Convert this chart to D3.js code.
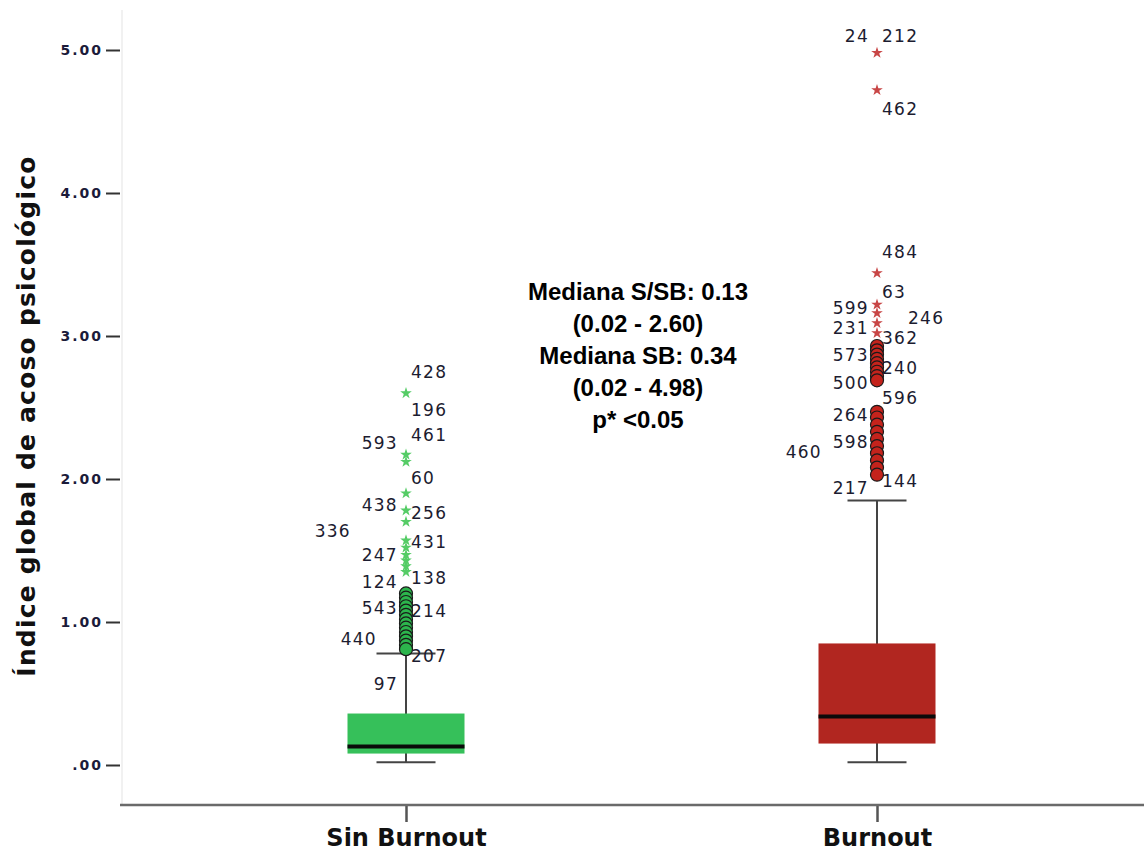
<!DOCTYPE html>
<html>
<head>
<meta charset="utf-8">
<script src="https://cdn.jsdelivr.net/npm/d3@7"></script>
<style>
  html, body { margin: 0; padding: 0; background: #fff; }
  svg { display: block; }
</style>
</head>
<body>
<svg id="chart" width="1144" height="852"></svg>
<script>
// Groups and box statistics
const categories   = ["Sin Burnout", "Burnout"];
const whiskerLow   = [0.02, 0.02];
const q1           = [0.08, 0.15];
const median       = [0.13, 0.34];
const q3           = [0.36, 0.85];
const whiskerHigh  = [0.78, 1.85];

// Outliers (circles) and extreme values (stars) per group
const outliersSin  = [1.20, 1.17, 1.14, 1.11, 1.08, 1.05, 1.02, 0.99, 0.96, 0.93, 0.90, 0.87, 0.84, 0.81];
const extremesSin  = [2.60, 2.17, 2.12, 1.90, 1.78, 1.70, 1.57, 1.52, 1.47, 1.43, 1.39, 1.35];
const outliersBurn = [2.93, 2.90, 2.87, 2.84, 2.81, 2.78, 2.75, 2.72, 2.69,
                      2.47, 2.43, 2.38, 2.33, 2.28, 2.23, 2.18, 2.13, 2.08, 2.03];
const extremesBurn = [4.98, 4.72, 3.44, 3.22, 3.16, 3.09, 3.02];

// Case labels: [case id, value level of the label, side]
const labelsSin = [
  ["428", 2.75, "right"], ["196", 2.48, "right"], ["461", 2.31, "right"],
  ["593", 2.25, "left"],  ["60", 2.01, "right"],  ["438", 1.82, "left"],
  ["256", 1.76, "right"], ["336", 1.64, "far-left"], ["431", 1.56, "right"],
  ["247", 1.47, "left"],  ["138", 1.31, "right"], ["124", 1.28, "left"],
  ["543", 1.10, "left"],  ["214", 1.08, "right"], ["440", 0.88, "mid-left"],
  ["207", 0.76, "right"], ["97", 0.57, "left"]
];
const labelsBurn = [
  ["24", 5.10, "left"],   ["212", 5.10, "right"], ["462", 4.59, "right"],
  ["484", 3.59, "right"], ["63", 3.31, "right"],  ["599", 3.20, "left"],
  ["246", 3.13, "far-right"], ["231", 3.06, "left"], ["362", 2.99, "right"],
  ["573", 2.87, "left"],  ["240", 2.78, "right"], ["500", 2.67, "left"],
  ["596", 2.57, "right"], ["264", 2.45, "left"],  ["598", 2.26, "left"],
  ["460", 2.19, "far-left"], ["144", 1.99, "right"], ["217", 1.94, "left"]
];

const yTicks = [0, 1, 2, 3, 4, 5];
const yTitle = "Índice global de acoso psicológico";
const notes = ["Mediana S/SB: 0.13", "(0.02 - 2.60)", "Mediana SB: 0.34", "(0.02 - 4.98)", "p* <0.05"];

const svg = d3.select("#chart");
const plotLeft = 121, axisY = 805;

const y = d3.scaleLinear().domain([0, 5]).range([765, 50]);
const x = d3.scalePoint().domain(categories).range([406, 877]);

const boxFill  = ["#36c05a", "#b12620"];
const dotFill  = ["#2cb54c", "#c4231c"];
const starFill = ["#55cc66", "#c84646"];
const outliers = [outliersSin, outliersBurn];
const extremes = [extremesSin, extremesBurn];
const labels   = [labelsSin, labelsBurn];

// faint frame line on the left of the plot
svg.append("line")
  .attr("x1", plotLeft + 1).attr("x2", plotLeft + 1)
  .attr("y1", 10).attr("y2", axisY)
  .attr("stroke", "#ececec").attr("stroke-width", 1.5);

// y axis
const yAxis = d3.axisLeft(y)
  .tickValues(yTicks)
  .tickSize(14)
  .tickPadding(3)
  .tickFormat(d => d === 0 ? ".00" : d3.format(".2f")(d));
const gy = svg.append("g").attr("transform", `translate(${plotLeft - 1},0)`).call(yAxis);
gy.select(".domain").remove();
gy.selectAll(".tick line").attr("stroke", "#333").attr("stroke-width", 2);
gy.selectAll(".tick text")
  .attr("fill", "#1b1b3a")
  .style("font-family", "'DejaVu Sans', sans-serif")
  .style("font-weight", "bold")
  .style("font-size", "14px")
  .style("letter-spacing", "2px");

// x axis
const xAxis = d3.axisBottom(x).tickSize(17).tickPadding(6);
const gx = svg.append("g").attr("transform", `translate(0,${axisY})`).call(xAxis);
gx.select(".domain").remove();
svg.append("line")
  .attr("x1", plotLeft - 1).attr("x2", 1144)
  .attr("y1", axisY).attr("y2", axisY)
  .attr("stroke", "#6a6a6a").attr("stroke-width", 2.5);
gx.selectAll(".tick line").attr("stroke", "#555").attr("stroke-width", 2.5);
gx.selectAll(".tick text")
  .attr("fill", "#111")
  .attr("y", 41)
  .attr("dy", 0)
  .style("font-family", "'DejaVu Sans', sans-serif")
  .style("font-weight", "bold")
  .style("font-size", "24px");

// y axis title
svg.append("text")
  .attr("transform", "translate(35,416) rotate(-90)")
  .attr("text-anchor", "middle")
  .attr("fill", "#111")
  .style("font-family", "'DejaVu Sans', sans-serif")
  .style("font-weight", "bold")
  .style("font-size", "25px")
  .style("letter-spacing", "1.2px")
  .text(yTitle);

const boxW = 117, capW = 59;

categories.forEach((c, i) => {
  const cx = x(c);
  const g = svg.append("g");

  // whisker stem
  g.append("line")
    .attr("x1", cx).attr("x2", cx)
    .attr("y1", y(whiskerLow[i])).attr("y2", y(whiskerHigh[i]))
    .attr("stroke", "#444").attr("stroke-width", 2);
  // whisker caps
  [whiskerLow[i], whiskerHigh[i]].forEach(v => {
    g.append("line")
      .attr("x1", cx - capW / 2).attr("x2", cx + capW / 2)
      .attr("y1", y(v)).attr("y2", y(v))
      .attr("stroke", "#444").attr("stroke-width", 2);
  });
  // box
  g.append("rect")
    .attr("x", cx - boxW / 2).attr("width", boxW)
    .attr("y", y(q3[i])).attr("height", y(q1[i]) - y(q3[i]))
    .attr("fill", boxFill[i]);
  // median
  g.append("line")
    .attr("x1", cx - boxW / 2).attr("x2", cx + boxW / 2)
    .attr("y1", y(median[i])).attr("y2", y(median[i]))
    .attr("stroke", "#0a0a0a").attr("stroke-width", 4);

  // extreme values
  g.selectAll(".star").data(extremes[i]).enter().append("path")
    .attr("d", d3.symbol().type(d3.symbolStar).size(42))
    .attr("transform", d => `translate(${cx},${y(d)})`)
    .attr("fill", starFill[i]);

  // outliers
  g.selectAll(".dot").data(outliers[i]).enter().append("circle")
    .attr("cx", cx).attr("cy", d => y(d)).attr("r", 6.5)
    .attr("fill", dotFill[i])
    .attr("stroke", "#1a1a1a").attr("stroke-width", 1.2);

  // case labels
  const off = { "left": -8, "mid-left": -29, "far-left": -55, "right": 5, "far-right": 31 };
  g.selectAll(".lab").data(labels[i]).enter().append("text")
    .attr("x", d => cx + off[d[2]])
    .attr("y", d => y(d[1]))
    .attr("dy", "0.36em")
    .attr("text-anchor", d => d[2].includes("left") ? "end" : "start")
    .attr("fill", "#1c1c30")
    .style("font-family", "'DejaVu Sans', sans-serif")
    .style("font-size", "17px")
    .style("letter-spacing", "1.3px")
    .text(d => d[0]);
});

// summary annotation
svg.append("g").selectAll("text").data(notes).enter().append("text")
  .attr("x", 638)
  .attr("y", (d, i) => 300 + i * 32)
  .attr("text-anchor", "middle")
  .attr("fill", "#000")
  .style("font-family", "'Liberation Sans', Arial, sans-serif")
  .style("font-weight", "bold")
  .style("font-size", "24px")
  .text(d => d);
</script>
</body>
</html>
